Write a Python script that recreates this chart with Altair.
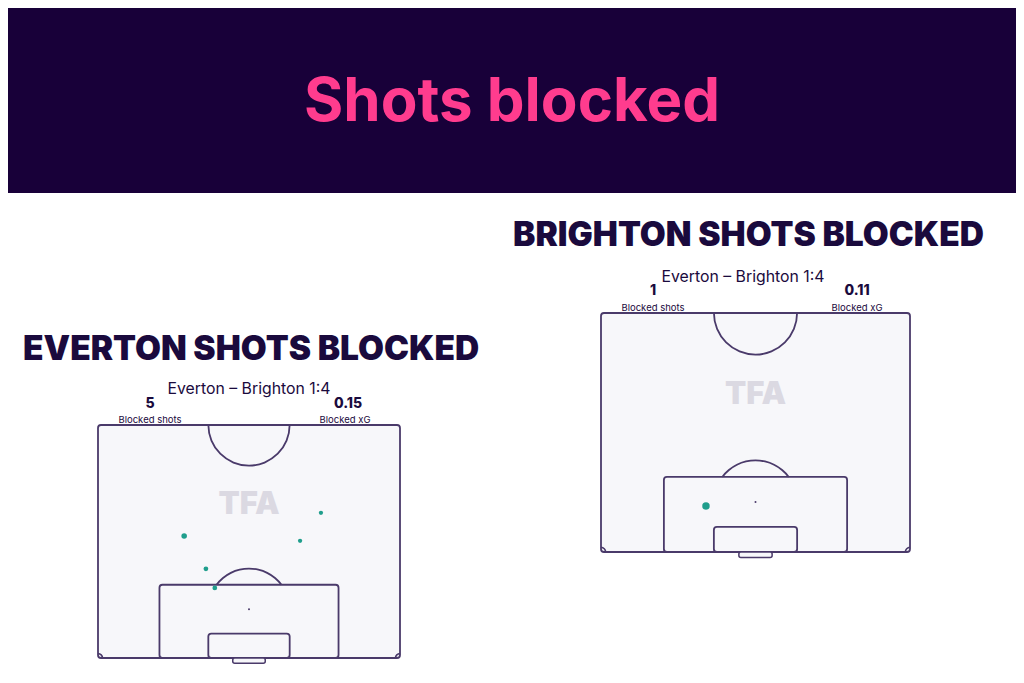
import altair as alt
import pandas as pd
import math

# ---------------- data ----------------
TITLE = "Shots blocked"
PANEL_TITLES = ["EVERTON SHOTS BLOCKED", "BRIGHTON SHOTS BLOCKED"]
MATCH = "Everton – Brighton 1:4"
BLOCKED_SHOTS = ["5", "1"]
BLOCKED_XG = ["0.15", "0.11"]
STAT_LABELS = ["Blocked shots", "Blocked xG"]

# shot locations in metres (x across pitch 0-68, y = distance from goal line)
EVE_X = [19.4, 50.2, 45.5, 24.3, 26.3]
EVE_Y = [27.5, 32.7, 26.4, 20.1, 15.8]
EVE_XG = [0.05, 0.02, 0.02, 0.03, 0.03]
BHA_X = [23.1]
BHA_Y = [10.1]
BHA_XG = [0.11]

# ---------------- style ----------------
HEADER = "#180039"
PINK = "#ff3c8e"
NAVY = "#1a0a3d"
LINE = "#4a3a6a"
PITCH_FILL = "#f7f7fa"
TEAL = "#1f9e8c"
WATER = "#dbd9e2"
FONT = "Inter"

W, H = 1008, 667

# pitch geometry (metres)
PL = 68.0
HALF = 52.5
rects = {
    "outer": (0, PL, 0, HALF),
    "box": (13.84, 54.16, 0, 16.5),
    "six": (24.84, 43.16, 0, 5.5),
    "goal": (30.34, 37.66, -1.2, 0),
}


def pitch(shots, xr, yr):
    k = (xr[1] - xr[0]) / PL
    xs = alt.Scale(domain=[0, PL], range=list(xr), nice=False, zero=False)
    ys = alt.Scale(domain=[0, HALF], range=list(yr), nice=False, zero=False)

    def rect_df(name):
        x, x2, y, y2 = rects[name]
        return pd.DataFrame({"x": [x], "x2": [x2], "y": [y], "y2": [y2]})

    def enc_rect(ch):
        return ch.encode(
            x=alt.X("x:Q", scale=xs, axis=None),
            x2="x2:Q",
            y=alt.Y("y:Q", scale=ys, axis=None),
            y2="y2:Q",
        )

    outer = enc_rect(alt.Chart(rect_df("outer")).mark_rect(
        fill=PITCH_FILL, stroke=LINE, strokeWidth=1.8, cornerRadius=3))
    box = enc_rect(alt.Chart(rect_df("box")).mark_rect(
        filled=False, stroke=LINE, strokeWidth=1.8, cornerRadius=3))
    six = enc_rect(alt.Chart(rect_df("six")).mark_rect(
        filled=False, stroke=LINE, strokeWidth=1.8, cornerRadius=3))
    goal = enc_rect(alt.Chart(rect_df("goal")).mark_rect(
        fill=PITCH_FILL, stroke=LINE, strokeWidth=1.5, cornerRadius=2))

    def arc(cx, cy, r_m, t1, t2):
        r = r_m * k
        return alt.Chart(pd.DataFrame({"cx": [cx], "cy": [cy]})).mark_arc(
            theta=t1, theta2=t2, radius=r + 0.9, radius2=max(r - 0.9, 0.1),
            fill=LINE, strokeWidth=0,
        ).encode(
            x=alt.X("cx:Q", scale=xs, axis=None),
            y=alt.Y("cy:Q", scale=ys, axis=None),
        )

    a = math.acos(5.5 / 9.15)
    arcs = [
        arc(PL / 2, HALF, 9.15, math.pi / 2, 3 * math.pi / 2),
        arc(PL / 2, 11, 9.15, 2 * math.pi - a, 2 * math.pi + a),
        arc(0, 0, 1.0, 0, math.pi / 2),
        arc(PL, 0, 1.0, 3 * math.pi / 2, 2 * math.pi),
    ]

    spot = alt.Chart(pd.DataFrame({"x": [PL / 2], "y": [11.0]})).mark_circle(
        color=LINE, size=4, opacity=1
    ).encode(
        x=alt.X("x:Q", scale=xs, axis=None),
        y=alt.Y("y:Q", scale=ys, axis=None),
    )

    water = alt.Chart(pd.DataFrame({"x": [PL / 2], "y": [34.5], "t": ["TFA"]})).mark_text(
        font=FONT, fontSize=31, fontWeight=900, color=WATER, baseline="middle",
        align="center",
    ).encode(
        x=alt.X("x:Q", scale=xs, axis=None),
        y=alt.Y("y:Q", scale=ys, axis=None),
        text="t:N",
    )

    dots = alt.Chart(shots).mark_circle(color=TEAL, opacity=1).encode(
        x=alt.X("x:Q", scale=xs, axis=None),
        y=alt.Y("y:Q", scale=ys, axis=None),
        size=alt.Size("xg:Q", scale=alt.Scale(domain=[0, 0.12], range=[10, 60]), legend=None),
    )

    return alt.layer(outer, *arcs, box, six, goal, spot, water, dots)


def txt(s, x, y, size, weight=400, color=NAVY, align="center"):
    return alt.Chart(pd.DataFrame({"t": [s]})).mark_text(
        font=FONT, fontSize=size, fontWeight=weight, color=color, align=align,
        baseline="middle",
    ).encode(text="t:N", x=alt.value(x), y=alt.value(y))


eve = pd.DataFrame({"x": EVE_X, "y": EVE_Y, "xg": EVE_XG})
bha = pd.DataFrame({"x": BHA_X, "y": BHA_Y, "xg": BHA_XG})

header = alt.Chart(pd.DataFrame({"a": [0]})).mark_rect(color=HEADER).encode(
    x=alt.value(-10), x2=alt.value(W + 10), y=alt.value(-10), y2=alt.value(185)
)

left = pitch(eve, (90, 392), (650, 417))
right = pitch(bha, (593, 902), (544, 305))

texts = [
    txt(TITLE, 504, 95, 60, 700, PINK),
    txt(PANEL_TITLES[0], 15, 342, 33.5, 900, NAVY, "left"),
    txt(PANEL_TITLES[1], 505, 228, 33.5, 900, NAVY, "left"),
    txt(MATCH, 241, 381, 15.8, 400, NAVY),
    txt(BLOCKED_SHOTS[0], 142, 396, 14, 800, NAVY),
    txt(STAT_LABELS[0], 142, 412, 9.5, 400, NAVY),
    txt(BLOCKED_XG[0], 340, 396, 14, 800, NAVY),
    txt(STAT_LABELS[1], 337, 412, 9.5, 400, NAVY),
    txt(MATCH, 735, 269, 15.8, 400, NAVY),
    txt(BLOCKED_SHOTS[1], 645, 283, 14, 800, NAVY),
    txt(STAT_LABELS[0], 645, 300, 9.5, 400, NAVY),
    txt(BLOCKED_XG[1], 849, 283, 14, 800, NAVY),
    txt(STAT_LABELS[1], 849, 300, 9.5, 400, NAVY),
]

chart = alt.layer(header, left, right, *texts).resolve_scale(
    x="independent", y="independent", size="independent"
).properties(
    width=W, height=H, autosize=alt.AutoSizeParams(type="none"), padding=0,
    background="white",
).configure_view(strokeWidth=0)

chart.save("out.html", embed_options={"renderer": "svg", "actions": False})
